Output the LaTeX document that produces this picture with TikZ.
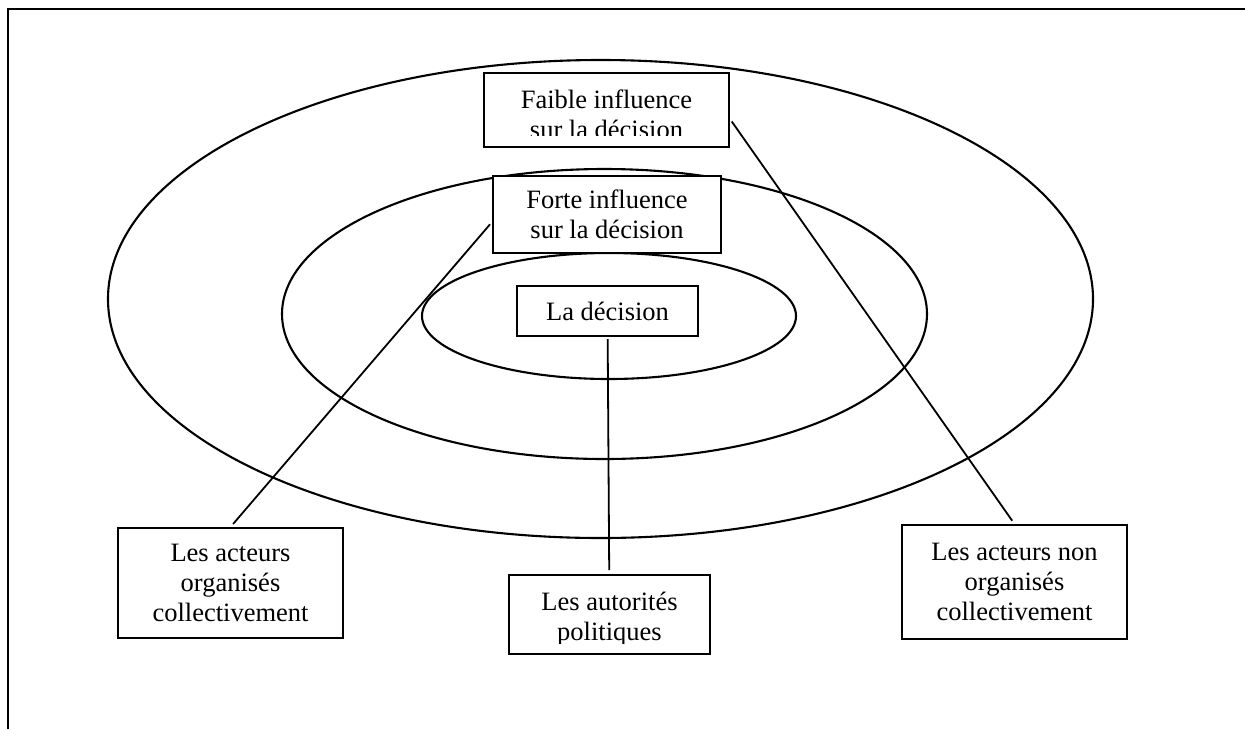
\documentclass[tikz,border=0pt]{standalone}
\usepackage{fontspec}
\setmainfont{Liberation Serif}
\begin{document}
\begin{tikzpicture}[x=1pt,y=-1pt,
    every node/.style={font=\fontsize{26.5}{30}\selectfont},
    boite/.style={draw,fill=white,line width=2pt,inner sep=0pt,align=center},
    texte/.style={inner sep=0pt,align=center},
    lien/.style={line width=1.8pt}]

  \useasboundingbox (0,0) rectangle (1245,729);
  \draw[line width=2.4pt] (8,729) -- (8,9) -- (1245,9);

  \foreach \cx/\cy/\rx/\ry in {600.5/299/492.5/239, 604.5/314/322.5/145, 609/316/187/63}{
    \draw[line width=2.1pt] (\cx,\cy) ellipse [x radius=\rx, y radius=\ry];
  }

  \node[boite, minimum width=245, minimum height=74] (faible) at (606.5,110) {};
  \node[boite, minimum width=228, minimum height=77] (forte) at (607,214.5) {Forte influence\\sur la décision};
  \node[boite, minimum width=181, minimum height=50] (decision) at (607.5,311) {La décision};
  \node[boite, minimum width=201, minimum height=79] (autorites) at (609.5,614.5) {};
  \node[boite, minimum width=225, minimum height=110] (organises) at (230.5,583) {Les acteurs\\organisés\\collectivement};
  \node[boite, minimum width=225, minimum height=114] (nonorganises) at (1014.5,582) {Les acteurs non\\organisés\\collectivement};

  \coordinate (coupefaible) at (729,135);
  \coordinate (coupeautorites) at (710,643);
  \begin{scope}
    \clip (faible.north west) rectangle (coupefaible);
    \node[texte] (faibletxt) at (606.5,114) {Faible influence\\sur la décision};
  \end{scope}
  \begin{scope}
    \clip (autorites.north west) rectangle (coupeautorites);
    \node[texte] (autoritestxt) at (609.5,619) {Les autorités\\politiques};
  \end{scope}

  \draw[lien, shorten <=3pt, shorten >=4pt] ([yshift=-7.5pt]forte.west) -- (organises.north);
  \draw[lien, shorten <=2pt, shorten >=4pt] (decision) -- (autorites);
  \draw[lien, shorten <=3pt, shorten >=4pt] ([yshift=-9pt]faible.east) -- (nonorganises.north);
\end{tikzpicture}
\end{document}
